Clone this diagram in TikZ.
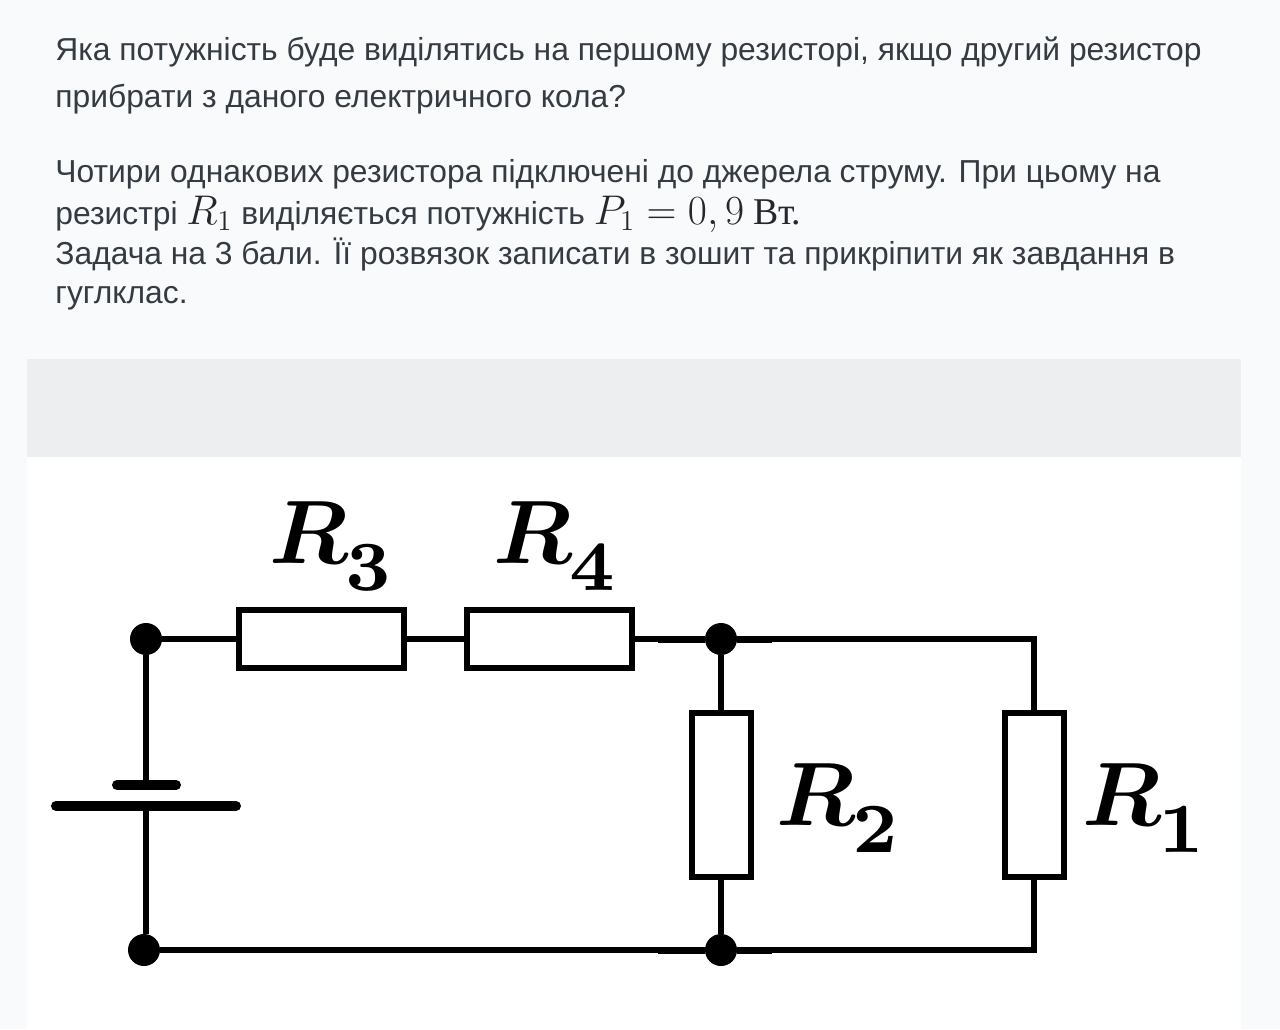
\documentclass[tikz,border=0pt]{standalone}
\usepackage{amsmath}
\usepackage[no-math]{fontspec}
\setmainfont{Liberation Sans}
\newfontfamily\unitfont{Liberation Serif}
\usepackage{tikz}
\DeclareMathSizes{15.9}{20.74}{14.4}{10}
\definecolor{pagebg}{HTML}{F9FAFC}
\definecolor{bandbg}{HTML}{EDEEF0}
\definecolor{textcol}{HTML}{353B42}
\definecolor{mathcol}{HTML}{24282C}
\newcommand{\reslabel}[1]{$\boldsymbol{R}$\kern-0.4pt\raisebox{-3pt}{\scalebox{1.12}{$\scriptstyle\mathbf{#1}$}}}

\begin{document}
\begin{tikzpicture}[x=0.5pt, y=-0.5pt,
    txt/.style = {anchor=base west, inner sep=0pt, text=textcol, font=\fontsize{15.9}{18}\selectfont},
    wire/.style = {line width=3pt},
    wirethick/.style = {line width=3.5pt},
    plate/.style = {line width=5pt, line cap=round},
    resh/.style = {shape=rectangle, draw, line width=3pt, fill=white, inner sep=0pt, minimum width=82.5pt, minimum height=29pt},
    resv/.style = {shape=rectangle, draw, line width=3pt, fill=white, inner sep=0pt, minimum width=29.5pt, minimum height=82pt},
    dot/.style = {shape=circle, fill=black, inner sep=0pt, minimum size=16pt},
    lab/.style = {anchor=base west, inner sep=0pt, scale=4.5}]
  % page
  \useasboundingbox (0,0) rectangle (1280,1029);
  \fill[pagebg] (0,0) rectangle (1280,1029);
  \fill[bandbg] (27,359) rectangle (1241,457);
  \fill[white] (27,457) rectangle (1241,1029);
  % text
  \node[txt] (line1) at (55,60) {Яка потужність буде виділятись на першому резисторі, якщо другий резистор};
  \node[txt] (line2) at (55,107) {прибрати з даного електричного кола?};
  \node[txt] (line3) at (55,182) {Чотири однакових резистора підключені до джерела струму. При цьому на};
  \node[txt] (line4) at (55,224) {резистрі {\color{mathcol}$R_1$} виділяється потужність {\color{mathcol}$P_1=0,9$ {\unitfont\fontsize{18.9}{18}\selectfont Вт.}}};
  \node[txt] (line5) at (55,264) {Задача на 3 бали. Її розвязок записати в зошит та прикріпити як завдання в};
  \node[txt] (line6) at (55,303) {гуглклас.};
  % circuit
  \node[dot] (nodeA) at (146,639) {};
  \node[dot] (nodeB) at (144,950) {};
  \node[dot] (nodeC) at (721,639) {};
  \node[dot] (nodeD) at (721,950) {};
  \node[resh] (R3) at (321,639) {};
  \node[resh] (R4) at (549,639) {};
  \node[resv] (R2) at (721,795) {};
  \node[resv] (R1) at (1034,795) {};
  \coordinate (cornerT) at (1034,639);
  \coordinate (cornerB) at (1034,950);
  \coordinate (platS) at (146,785);
  \coordinate (platL) at (146,806);
  \draw[wire] (nodeA) -- (R3);
  \draw[wire] (R3) -- (R4);
  \draw[wire] (R4) -- (nodeC);
  \draw[wire] (nodeC) -- (cornerT) -- (R1.north);
  \draw[wire] (R1.south) -- (cornerB) -- (nodeD);
  \draw[wire] (nodeC) -- (R2);
  \draw[wire] (R2) -- (nodeD);
  \draw[wire] (nodeB) -- (nodeD);
  \draw[wire] (nodeA) -- (platS);
  \draw[wire] (platL) -- (nodeB.north -| platL);
  \draw[plate] (117,785) -- (platS) -- (176,785);
  \draw[plate] (56,806) -- (platL) -- (236,806);
  % thicker stubs at the junctions
  \draw[wirethick] (658,639) coordinate (stubC1) -- (nodeC) -- (772,639) coordinate (stubC2);
  \draw[wirethick] (658,950) coordinate (stubD1) -- (nodeD) -- (772,950) coordinate (stubD2);
  % labels
  \node[lab] (labR3) at (268,563) {\reslabel{3}};
  \node[lab] (labR4) at (492,563) {\reslabel{4}};
  \node[lab] (labR2) at (775,825) {\reslabel{2}};
  \node[lab] (labR1) at (1081,825) {\reslabel{1}};
\end{tikzpicture}
\end{document}
